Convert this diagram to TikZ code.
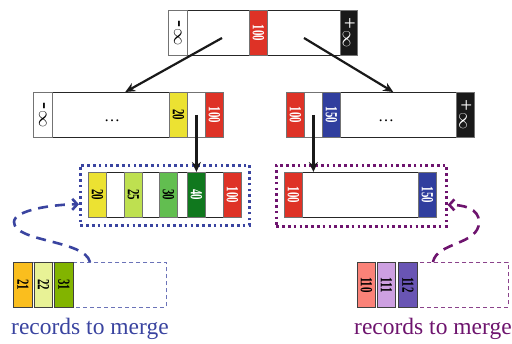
\documentclass[tikz,border=0pt]{standalone}
\usepackage{graphicx}
\usepackage{fontspec}
\setmainfont{Liberation Serif}
\usetikzlibrary{positioning, arrows.meta, calc}

% cell and record colours
\definecolor{cRed}{RGB}{222,50,38}
\definecolor{cYellow}{RGB}{236,226,50}
\definecolor{cBlue}{RGB}{48,62,158}
\definecolor{cLime}{RGB}{190,224,80}
\definecolor{cGreen}{RGB}{98,190,80}
\definecolor{cDark}{RGB}{16,120,30}
\definecolor{cOrange}{RGB}{250,190,30}
\definecolor{cPale}{RGB}{232,242,150}
\definecolor{cOlive}{RGB}{130,180,0}
\definecolor{cSalmon}{RGB}{250,130,120}
\definecolor{cLilac}{RGB}{205,160,225}
\definecolor{cPurple}{RGB}{105,85,180}
\definecolor{mergeBlue}{RGB}{58,68,160}
\definecolor{mergePurple}{RGB}{110,20,110}

% vertical key text
\newcommand{\vnum}[1]{\rotatebox{-90}{\scalebox{0.64}[1]{\fontsize{17}{17}\selectfont\bfseries #1}}}
\newcommand{\vinf}[1]{\rotatebox{-90}{{\fontsize{21}{21}\selectfont #1}\kern1pt{\fontsize{19}{19}\selectfont$\infty$}}}

\begin{document}
\begin{tikzpicture}[
		x=1pt, y=-1pt,
		>={Stealth[length=10pt, width=9pt]},
		% Styles for the tree nodes
		nodebox/.style={
			draw=black!85, line width=1pt, fill=white, anchor=north west,
			minimum height=45pt, inner sep=0pt
		},
		keycell/.style={
			draw=black!55, line width=0.8pt, anchor=north west,
			minimum width=18pt, minimum height=45pt, inner sep=0pt
		},
		recordcell/.style={keycell, draw=black!75, fill=white},
		% Styles for the connectors
		treelink/.style={->, line width=2.2pt, black!90},
		mergelink/.style={
			line width=2.6pt, dash pattern=on 10pt off 7pt,
			-{Straight Barb[length=5pt, width=11pt]}
		},
		mergeframe/.style={
			line width=2.6pt, dash pattern=on 2.6pt off 3.2pt, anchor=north west,
			inner sep=0pt
		},
		recordbox/.style={
			line width=0.9pt, dash pattern=on 4pt off 3pt, anchor=north west,
			minimum height=45pt, inner sep=0pt
		},
		mergetext/.style={font=\fontsize{23.5}{24}\selectfont, inner sep=0pt},
		dotstext/.style={font=\fontsize{16}{16}\selectfont, inner sep=0pt}
		]
		
		\useasboundingbox (0,0) rectangle (512,344);
		
		% ==========================================
		% 1. THE ROOT
		% ==========================================
		\node[nodebox, minimum width=189pt] (root) at (168,10) {};
		\node[keycell, minimum width=19pt] (rootNeg) at (168,10) {\vinf{\textbf{-}}};
		\node[keycell, fill=cRed, text=white] (root100) at (249,10) {\vnum{100}};
		\node[keycell, minimum width=17pt, fill=black!90, text=white] (rootPos) at (340,10) {\vinf{+}};
		
		% ==========================================
		% 2. THE INNER NODES
		% ==========================================
		\node[nodebox, minimum width=190pt] (childL) at (33,92) {};
		\node[keycell, minimum width=19pt] (lNeg) at (33,92) {\vinf{\textbf{-}}};
		\node[keycell, fill=cYellow] (l20) at (169,92) {\vnum{20}};
		\node[keycell] (lGap) at (187,92) {};
		\node[keycell, fill=cRed, text=white] (l100) at (205,92) {\vnum{100}};
		\node[dotstext] (lDots) at (112,121) {\dots};
		
		\node[nodebox, minimum width=188pt] (childR) at (286,92) {};
		\node[keycell, fill=cRed, text=white] (r100) at (286,92) {\vnum{100}};
		\node[keycell] (rGap) at (304,92) {};
		\node[keycell, fill=cBlue, text=white] (r150) at (322,92) {\vnum{150}};
		\node[keycell, fill=black!90, text=white] (rPos) at (456,92) {\vinf{+}};
		\node[dotstext] (rDots) at (386,121) {\dots};
		
		\coordinate (rootL) at (222,38);
		\coordinate (rootR) at (304,38);
		\draw[treelink] (rootL) -- (childL.98);
		\draw[treelink] (rootR) -- (childR.61);
		
		% ==========================================
		% 3. THE LEAVES
		% ==========================================
		\node[mergeframe, draw=mergeBlue, minimum width=169pt, minimum height=60pt] (dotL) at (79,164) {};
		\node[nodebox, minimum width=153pt] (leafL) at (88,172) {};
		\node[keycell, fill=cYellow] (a20) at (88,172) {\vnum{20}};
		\node[keycell, fill=cLime] (a25) at (124,172) {\vnum{25}};
		\node[keycell, fill=cGreen] (a30) at (159,172) {\vnum{30}};
		\node[keycell, fill=cDark, text=white] (a40) at (187,172) {\vnum{40}};
		\node[keycell, fill=cRed, text=white] (a100) at (223,172) {\vnum{100}};
		
		\node[mergeframe, draw=mergePurple, minimum width=170pt, minimum height=61pt] (dotR) at (275,164) {};
		\node[nodebox, minimum width=152pt] (leafR) at (284,172) {};
		\node[keycell, fill=cRed, text=white] (b100) at (284,172) {\vnum{100}};
		\node[keycell, fill=cBlue, text=white] (b150) at (418,172) {\vnum{150}};
		
		\draw[treelink] (lGap.center) -- (a40.north);
		\draw[treelink] (rGap.center) -- (rGap |- leafR.north);
		
		% ==========================================
		% 4. THE RECORDS TO MERGE
		% ==========================================
		\node[recordbox, draw=mergeBlue!75, minimum width=153pt] (recL) at (13,262) {};
		\node[recordcell, minimum width=19pt, fill=cOrange] (rec21) at (13,262) {\vnum{21}};
		\node[recordcell, fill=cPale] (rec22) at (34,262) {\vnum{22}};
		\node[recordcell, minimum width=19pt, fill=cOlive] (rec31) at (54,262) {\vnum{31}};
		\node[mergetext, text=mergeBlue, below=10pt of recL] (txtL) {records to merge};
		
		\node[recordbox, draw=mergePurple!80, minimum width=151pt] (recR) at (357,262) {};
		\node[recordcell, fill=cSalmon] (rec110) at (357,262) {\vnum{110}};
		\node[recordcell, fill=cLilac] (rec111) at (377,262) {\vnum{111}};
		\node[recordcell, minimum width=19pt, fill=cPurple] (rec112) at (398,262) {\vnum{112}};
		\node[mergetext, text=mergePurple, below=10pt of recR] (txtR) {records to merge};
		
		\coordinate (loopL) at (14,222);
		\coordinate (loopR) at (479,222);
		\draw[mergelink, mergeBlue] (recL.north) .. controls +(-5,-22) and +(0,20) .. (loopL)
		.. controls +(0,-12) and +(-25,0) .. (dotL.186);
		\draw[mergelink, mergePurple] (recR.north) .. controls +(4,-20) and +(0,23) .. (loopR)
		.. controls +(0,-14) and +(15,0) .. (dotR.354);
		
	\end{tikzpicture}
\end{document}
